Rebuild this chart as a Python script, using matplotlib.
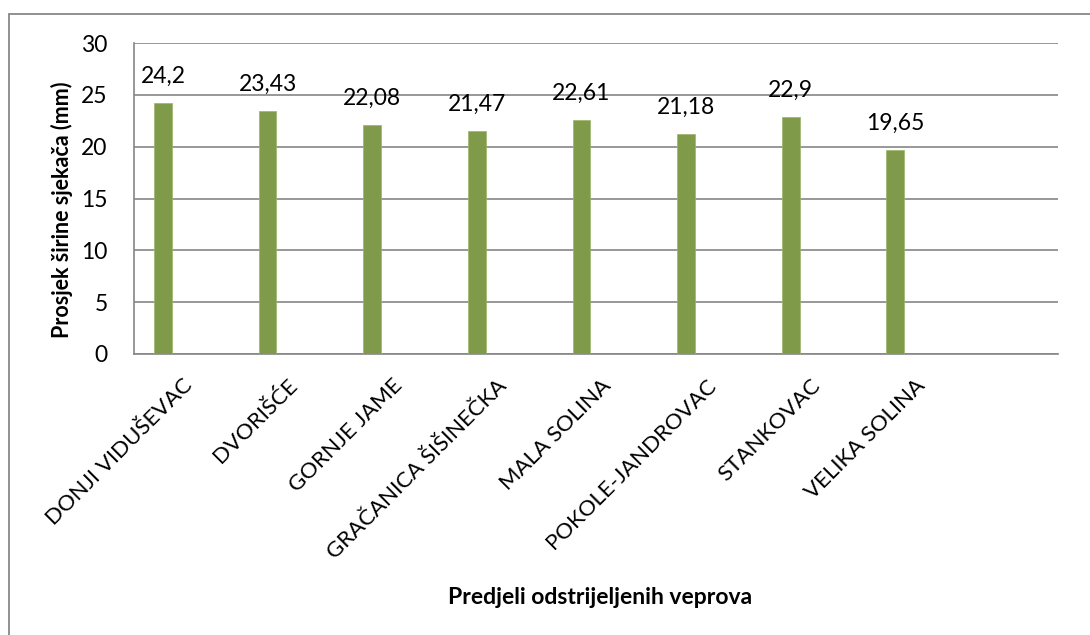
import matplotlib
matplotlib.use("Agg")
import matplotlib.pyplot as plt
from matplotlib.transforms import ScaledTranslation
from matplotlib.patches import Rectangle

categories = ["DONJI VIDUŠEVAC", "DVORIŠĆE", "GORNJE JAME", "GRAČANICA ŠIŠINEČKA",
              "MALA SOLINA", "POKOLE-JANDROVAC", "STANKOVAC", "VELIKA SOLINA"]
values = [24.2, 23.43, 22.08, 21.47, 22.61, 21.18, 22.9, 19.65]
yticks = [0, 5, 10, 15, 20, 25, 30]

plt.rcParams['font.family'] = ['Lato', 'DejaVu Sans']

W, H = 1090, 635
fig = plt.figure(figsize=(W / 100, H / 100), dpi=100)
fig.patch.set_facecolor('white')

# outer chart frame (cropped on right and bottom)
fig.patches.append(Rectangle((9 / W, -0.1), 1.2, (H - 14) / H + 0.1, transform=fig.transFigure,
                             fill=False, edgecolor='#888888', linewidth=1.3))

ax = fig.add_axes([134 / W, 1 - 354 / H, (1058 - 134) / W, (354 - 43) / H])
x = list(range(len(categories)))
bars = ax.bar(x, values, width=0.17, color='#7F9A48', edgecolor='#9CB46A', linewidth=0.5, zorder=3)

ax.set_ylim(0, 30)
ax.set_xlim(-0.277, 8.555)
ax.set_yticks(yticks)
ax.set_yticklabels([str(t) for t in yticks], fontsize=16.5)
ax.tick_params(axis='y', length=0, pad=19)
ax.yaxis.grid(True, color='#868686', linewidth=1.2, zorder=0)
for s in ['top', 'right']:
    ax.spines[s].set_visible(False)
for s in ['left', 'bottom']:
    ax.spines[s].set_color('#868686')
    ax.spines[s].set_linewidth(1.2)

ax.set_xticks(x)
ax.set_xticklabels(categories, fontsize=16, rotation=45, ha='right', va='center',
                   rotation_mode='anchor')
ax.tick_params(axis='x', length=0, pad=0)
off = ScaledTranslation(0.265, -0.285, fig.dpi_scale_trans)
for lab in ax.get_xticklabels():
    lab.set_transform(lab.get_transform() + off)

for xi, v in zip(x, values):
    ax.annotate(f"{v:g}".replace('.', ','), (xi, v), xytext=(0, 14.5), textcoords='offset points',
                ha='center', va='baseline', fontsize=16.5)

fig.text(62 / W, 1 - 210 / H, "Prosjek širine sjekača (mm)", rotation=90, ha='center', va='center',
         fontsize=15.5, fontweight='bold')
fig.text(600 / W, 1 - 597 / H, "Predjeli odstrijeljenih veprova", ha='center', va='center',
         fontsize=16.5, fontweight='bold')

fig.savefig("out.png", dpi=100)
